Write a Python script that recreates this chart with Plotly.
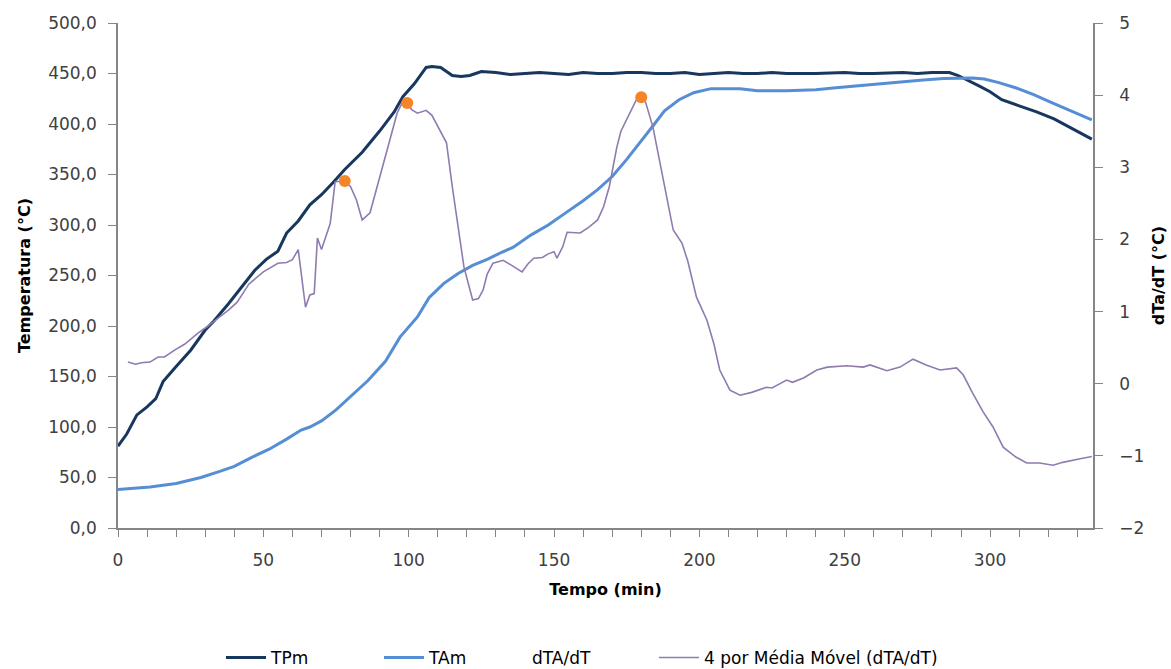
import plotly.graph_objects as go

# ---- data ----
tp_t = [0, 3, 6.5, 10, 13, 15.5, 20, 25, 30, 33, 38, 43, 47, 51, 55, 58, 62, 66, 70, 74, 78, 84, 90, 95,
        98, 102, 106, 108, 111, 113, 115, 118, 121, 125, 130, 135, 140, 145, 150, 155, 160, 165, 170, 175,
        180, 185, 190, 195, 200, 205, 210, 215, 220, 225, 230, 240, 250, 255, 260, 270, 275, 280, 286,
        289, 292, 296, 300, 304, 310, 316, 322, 328, 335]
tp_v = [81, 93, 112, 120, 128, 145, 160, 176, 196, 205, 222, 240, 255, 266, 274, 292, 304, 320, 330, 342,
        355, 372, 393, 412, 427, 440, 456, 457, 456, 452, 448, 447, 448, 452, 451, 449, 450, 451, 450,
        449, 451, 450, 450, 451, 451, 450, 450, 451, 449, 450, 451, 450, 450, 451, 450, 450, 451, 450,
        450, 451, 450, 451, 451, 448, 444, 438, 432, 424, 418, 412, 405, 396, 385]

ta_t = [0, 5, 11, 20, 28.5, 35, 40, 46, 52, 58, 63, 66, 70, 75, 80, 86, 92, 97, 103, 107, 112, 117, 122,
        127, 132, 136, 142, 148, 154, 160, 165, 170, 175, 180, 184, 188, 193, 198, 204, 214, 220, 230,
        240, 247, 255, 263, 270, 277, 284, 289, 294, 298, 303, 309, 315, 320.6, 328, 335]
ta_v = [38, 39, 40.6, 44, 50, 56, 61, 70, 78, 88, 97, 100, 106, 117, 130, 146, 165, 189, 209, 228, 242,
        252, 260, 266, 273, 278, 290, 300, 312, 324, 335, 348, 365, 384, 398, 413, 424, 431, 435, 435,
        433, 433, 434, 436, 438, 440.6, 442, 443.6, 445, 445.5, 445.5, 444.5, 441, 435.6, 429, 422, 413, 404]

mm_t = [3.4, 6, 8, 11, 13.8, 16, 19.6, 23, 27.5, 31, 34.4, 38, 41, 45, 50, 55, 58, 60, 62, 63.5, 64.5,
        66, 67.5, 68.6, 70, 73, 74.7, 78, 80, 82, 84, 86.7, 89, 91, 94, 96, 97.7, 99.5, 101, 103, 106, 108,
        110, 113, 115, 117, 119, 122, 124, 125.6, 127, 129, 132.5, 135, 138, 139, 141, 143, 146, 148, 150,
        151, 153, 154.5, 159, 162, 165, 167, 169, 171.6, 173, 175, 177, 178.5, 180, 181.5, 184, 187.5,
        191, 194, 196, 199, 202.6, 205, 207, 210.5, 214, 218, 223, 225, 230, 232, 235.8, 240.4, 244,
        250.7, 256.4, 258.7, 264.5, 269, 273.5, 278, 282.8, 288.5, 290.8, 294, 297.6, 301, 304.5, 307,
        309, 312.6, 317, 321.7, 325, 331, 335]
mm_v = [0.30, 0.27, 0.29, 0.30, 0.37, 0.37, 0.47, 0.55, 0.70, 0.80, 0.91, 1.02, 1.13, 1.38, 1.55, 1.67,
        1.68, 1.72, 1.86, 1.40, 1.06, 1.23, 1.25, 2.02, 1.86, 2.22, 2.80, 2.81, 2.73, 2.55, 2.27, 2.37,
        2.70, 3.00, 3.45, 3.75, 3.89, 3.89, 3.80, 3.75, 3.79, 3.72, 3.56, 3.34, 2.73, 2.15, 1.62, 1.16,
        1.18, 1.30, 1.52, 1.67, 1.71, 1.65, 1.58, 1.55, 1.66, 1.74, 1.75, 1.80, 1.83, 1.74, 1.90, 2.10,
        2.09, 2.17, 2.27, 2.45, 2.73, 3.28, 3.50, 3.66, 3.84, 3.95, 3.97, 3.90, 3.56, 2.87, 2.13, 1.95,
        1.70, 1.20, 0.88, 0.55, 0.19, -0.09, -0.16, -0.12, -0.05, -0.06, 0.05, 0.02, 0.08, 0.19, 0.23,
        0.25, 0.23, 0.26, 0.18, 0.23, 0.34, 0.26, 0.19, 0.22, 0.12, -0.13, -0.39, -0.60, -0.88, -0.96,
        -1.02, -1.10, -1.10, -1.13, -1.09, -1.04, -1.01]

peak_t = [78, 99.5, 180]
peak_v = [2.81, 3.89, 3.97]

x_ticks = list(range(0, 340, 10))
x_labels = [str(v) if v % 50 == 0 else "" for v in x_ticks]

FONT = "DejaVu Sans"
AX = "#868686"
W, H = 1171, 669
TICKFONT = dict(family=FONT, size=17, color="#404040")
TITLEFONT = dict(family=FONT, size=16, color="#000000")
LEGFONT = dict(family=FONT, size=17, color="#000000")

fig = go.Figure()
fig.add_trace(go.Scatter(x=tp_t, y=tp_v, name="TPm", mode="lines", legend="legend",
                         line=dict(color="#17375E", width=3)))
fig.add_trace(go.Scatter(x=ta_t, y=ta_v, name="TAm", mode="lines", legend="legend2",
                         line=dict(color="#558ED5", width=3)))
fig.add_trace(go.Scatter(x=peak_t, y=peak_v, name="dTA/dT", mode="lines", yaxis="y2", legend="legend3",
                         line=dict(color="rgba(0,0,0,0)", width=2), hoverinfo="skip"))
fig.add_trace(go.Scatter(x=mm_t, y=mm_v, name="4 por Média Móvel (dTA/dT)", mode="lines", yaxis="y2",
                         legend="legend4", line=dict(color="#8E7BB0", width=1.6)))
fig.add_trace(go.Scatter(x=peak_t, y=peak_v, name="dTA/dT", mode="markers", yaxis="y2", showlegend=False,
                         marker=dict(color="#F68428", size=12)))


def leg(px):
    return dict(orientation="h", xref="container", yref="container", x=px / W, xanchor="left",
                y=1 - 658 / H, yanchor="middle", font=LEGFONT, bgcolor="rgba(0,0,0,0)",
                itemwidth=40, tracegroupgap=0)


fig.update_layout(
    width=W, height=H,
    margin=dict(l=118, r=78, t=23, b=141, autoexpand=False),
    paper_bgcolor="white", plot_bgcolor="white",
    separators=",.",
    font=dict(family=FONT, size=16, color="#404040"),
    xaxis=dict(range=[0, 335.4], tickmode="array", tickvals=x_ticks, ticktext=x_labels,
               ticks="outside", ticklen=7, tickcolor=AX, tickfont=TICKFONT, ticklabelstandoff=9,
               showline=True, linecolor=AX, linewidth=1.5, showgrid=False, zeroline=False,
               title=dict(text="<b>Tempo (min)</b>", font=TITLEFONT, standoff=15)),
    yaxis=dict(range=[0, 500], dtick=50, tickformat=".1f", ticks="outside", ticklen=8, tickcolor=AX,
               tickfont=TICKFONT, ticklabelstandoff=8,
               showline=True, linecolor=AX, linewidth=1.5, showgrid=False, zeroline=False,
               title=dict(text="<b>Temperatura (°C)</b>", font=TITLEFONT, standoff=14)),
    yaxis2=dict(range=[-2, 5], dtick=1, overlaying="y", side="right", ticks="outside", ticklen=8,
                tickcolor=AX, tickfont=TICKFONT, ticklabelstandoff=13,
                showline=True, linecolor=AX, linewidth=1.5, showgrid=False, zeroline=False,
                title=dict(text="<b>dTa/dT (°C)</b>", font=TITLEFONT, standoff=10)),
    legend=leg(221), legend2=leg(379), legend3=leg(482), legend4=leg(654),
    showlegend=True,
)

fig.write_html("out.html")
